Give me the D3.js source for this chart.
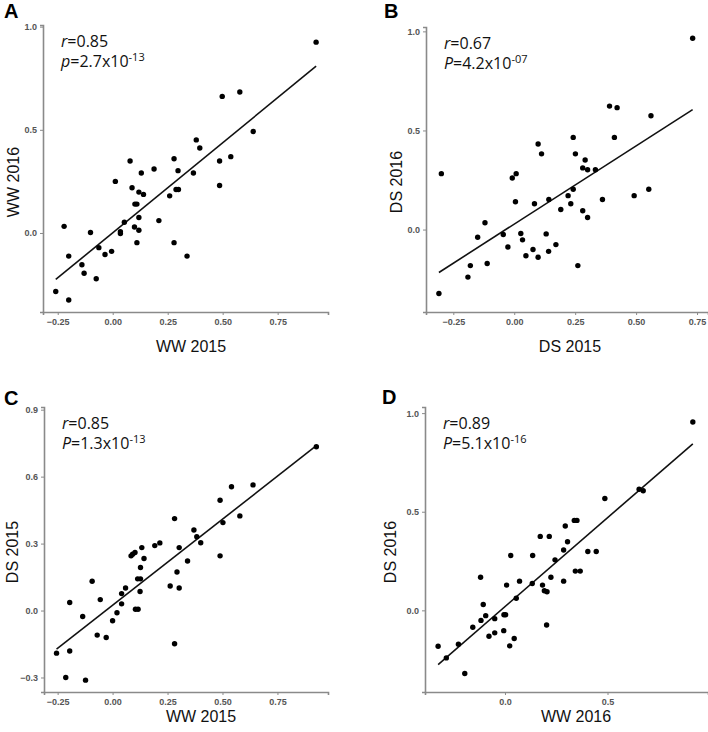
<!DOCTYPE html>
<html>
<head>
<meta charset="utf-8">
<script src="https://cdn.jsdelivr.net/npm/d3@7"></script>
<style>
  body { margin: 0; background: #fff; }
  svg { display: block; }
  .tick text { font-family: "Liberation Sans", Arial, sans-serif; font-size: 9px; font-weight: bold; fill: #555; }
  .axis path, .axis line { stroke: #8a8a8a; }
</style>
</head>
<body>
<svg id="chart" width="708" height="732"></svg>
<script>
// Panel A: WW 2015 vs WW 2016
const aWW2015 = [0.925, 0.498, 0.578, 0.639, 0.380, 0.396, 0.486, 0.537, 0.486, 0.279, 0.297, 0.367, 0.188, 0.079, 0.130,
  0.012, 0.088, 0.119, 0.140, 0.259, 0.288, 0.299, 0.101, 0.110, 0.119, 0.210, 0.053, 0.035, 0.035, 0.099,
  0.119, 0.110, 0.279, 0.338, -0.101, -0.221, -0.200, -0.063, -0.035, -0.005, -0.140, -0.130, -0.075, -0.259, -0.200];
const aWW2016 = [0.925, 0.662, 0.683, 0.492, 0.451, 0.412, 0.349, 0.370, 0.230, 0.360, 0.302, 0.291, 0.310, 0.349, 0.291,
  0.250, 0.219, 0.198, 0.187, 0.180, 0.211, 0.211, 0.140, 0.140, 0.075, 0.060, 0.052, 0.006, -0.003, 0.029,
  0.013, -0.047, -0.047, -0.112, 0.002, 0.032, -0.112, -0.071, -0.104, -0.089, -0.154, -0.195, -0.222, -0.284, -0.325];

// Panel B: DS 2015 vs DS 2016
const bDS2015 = [0.732, 0.391, 0.422, 0.561, 0.411, 0.242, 0.098, 0.112, 0.251, 0.291, 0.281, 0.301, 0.333, -0.299, 0.008,
  -0.008, 0.242, 0.552, 0.492, 0.221, 0.142, 0.362, 0.005, 0.083, 0.232, 0.191, 0.281, 0.301, -0.120, -0.045,
  0.027, 0.131, -0.150, 0.034, -0.026, 0.171, 0.077, 0.141, 0.048, 0.098, 0.261, -0.180, -0.111, -0.190, -0.309];
const bDS2016 = [0.965, 0.623, 0.615, 0.574, 0.465, 0.465, 0.432, 0.382, 0.382, 0.351, 0.311, 0.302, 0.302, 0.282, 0.282,
  0.260, 0.203, 0.203, 0.171, 0.171, 0.152, 0.152, 0.140, 0.130, 0.130, 0.101, 0.095, 0.061, 0.034, -0.025,
  -0.020, -0.022, -0.039, -0.052, -0.088, -0.076, -0.101, -0.110, -0.132, -0.140, -0.182, -0.182, -0.171, -0.240, -0.323];

// Panel C: WW 2015 vs DS 2015
const cWW2015 = [0.927, 0.639, 0.541, 0.489, 0.579, 0.502, 0.282, 0.370, 0.383, 0.401, 0.303, 0.489, 0.341, 0.192, 0.215,
  0.133, 0.084, 0.091, 0.102, 0.143, 0.127, 0.114, 0.127, 0.293, 0.262, 0.303, 0.125, 0.059, 0.041, -0.093,
  -0.056, 0.041, -0.195, 0.104, 0.116, 0.020, -0.136, 0.000, -0.070, -0.029, 0.282, -0.195, -0.255, -0.213, -0.123];
const cDS2015 = [0.734, 0.563, 0.555, 0.494, 0.424, 0.394, 0.412, 0.361, 0.331, 0.304, 0.282, 0.245, 0.222, 0.291, 0.303,
  0.282, 0.245, 0.252, 0.260, 0.233, 0.193, 0.142, 0.142, 0.173, 0.110, 0.101, 0.085, 0.101, 0.076, 0.131,
  0.049, 0.030, 0.036, 0.006, 0.006, -0.010, -0.027, -0.046, -0.110, -0.121, -0.149, -0.181, -0.191, -0.300, -0.312];

// Panel D: WW 2016 vs DS 2016
const dWW2016 = [0.916, 0.654, 0.674, 0.487, 0.338, 0.351, 0.294, 0.172, 0.216, 0.305, 0.286, 0.404, 0.445, 0.028, 0.135,
  0.244, 0.343, 0.367, -0.119, 0.224, 0.071, 0.286, 0.133, 0.008, 0.183, 0.192, 0.205, 0.055, -0.106, -0.005,
  0.003, -0.094, -0.117, -0.050, -0.157, -0.006, -0.050, -0.078, 0.203, 0.045, 0.023, -0.227, -0.326, -0.286, -0.196];
const dDS2016 = [0.955, 0.614, 0.606, 0.567, 0.456, 0.456, 0.428, 0.375, 0.375, 0.348, 0.306, 0.298, 0.298, 0.278, 0.278,
  0.256, 0.199, 0.199, 0.168, 0.168, 0.148, 0.148, 0.136, 0.128, 0.128, 0.099, 0.094, 0.061, 0.030, -0.022,
  -0.022, -0.027, -0.051, -0.042, -0.086, -0.103, -0.114, -0.131, -0.074, -0.143, -0.180, -0.172, -0.182, -0.241, -0.320];

// tick values
const ticksX2015 = [-0.25, 0, 0.25, 0.5, 0.75];
const ticksY1 = [0, 0.5, 1.0];
const ticksYC = [-0.3, 0, 0.3, 0.6, 0.9];
const ticksXD = [0, 0.5];

// statistics text
const panelLetters = ['A', 'B', 'C', 'D'];
const rValues = ['0.85', '0.67', '0.85', '0.89'];
const pLetters = ['p', 'P', 'P', 'P'];
const pMantissa = ['2.7', '4.2', '1.3', '5.1'];
const pExponent = ['-13', '-07', '-13', '-16'];
const xTitles = ['WW 2015', 'DS 2015', 'WW 2015', 'WW 2016'];
const yTitles = ['WW 2016', 'DS 2016', 'DS 2015', 'DS 2016'];

const svg = d3.select('#chart');

// layout of each panel (pixels) and axis domains
const panels = [
  { x: aWW2015, y: aWW2016, left: 43, top: 25, right: 328, bottom: 312, xDom: [-0.317, 0.979], yDom: [-0.383, 1.008],
    xTicks: ticksX2015, yTicks: ticksY1, xFmt: '.2f', yFmt: '.1f', letter: [4, 18], xt: [191, 352], yt: [13, 182] },
  { x: bDS2015, y: bDS2016, left: 426, top: 27, right: 708, bottom: 312, xDom: [-0.362, 0.795], yDom: [-0.416, 1.022],
    xTicks: ticksX2015, yTicks: ticksY1, xFmt: '.2f', yFmt: '.1f', letter: [384, 18], xt: [570, 352], yt: [396, 182] },
  { x: cWW2015, y: cDS2015, left: 44, top: 407, right: 328, bottom: 692, xDom: [-0.312, 0.980], yDom: [-0.365, 0.912],
    xTicks: ticksX2015, yTicks: ticksYC, xFmt: '.2f', yFmt: '.1f', letter: [4, 405], xt: [201, 722], yt: [12, 552] },
  { x: dWW2016, y: dDS2016, left: 425, top: 407, right: 708, bottom: 692, xDom: [-0.390, 0.990], yDom: [-0.414, 1.031],
    xTicks: ticksXD, yTicks: ticksY1, xFmt: '.1f', yFmt: '.1f', letter: [382, 404], xt: [576, 722], yt: [390, 552] }
];

// least squares fit for the trend line
function fitLine(xs, ys) {
  const mx = d3.mean(xs), my = d3.mean(ys);
  let sxy = 0, sxx = 0;
  xs.forEach((v, i) => { sxy += (v - mx) * (ys[i] - my); sxx += (v - mx) * (v - mx); });
  const slope = sxy / sxx;
  return { slope: slope, intercept: my - slope * mx };
}

panels.forEach((p, i) => {
  const x = d3.scaleLinear().domain(p.xDom).range([p.left, p.right]);
  const y = d3.scaleLinear().domain(p.yDom).range([p.bottom, p.top]);
  const g = svg.append('g');

  // axes
  g.append('g').attr('class', 'axis')
    .attr('transform', `translate(0,${p.bottom})`)
    .call(d3.axisBottom(x).tickValues(p.xTicks).tickFormat(d3.format(p.xFmt)).tickSizeOuter(0).tickSize(3).tickPadding(4))
    .call(a => a.select('.domain').attr('stroke-width', 1.6));
  g.append('g').attr('class', 'axis')
    .attr('transform', `translate(${p.left},0)`)
    .call(d3.axisLeft(y).tickValues(p.yTicks).tickFormat(d3.format(p.yFmt)).tickSizeOuter(0).tickSize(3).tickPadding(3))
    .call(a => a.select('.domain').attr('stroke-width', 1.6));

  // trend line
  const fit = fitLine(p.x, p.y);
  const ext = d3.extent(p.x);
  g.append('line')
    .attr('x1', x(ext[0])).attr('y1', y(fit.intercept + fit.slope * ext[0]))
    .attr('x2', x(ext[1])).attr('y2', y(fit.intercept + fit.slope * ext[1]))
    .attr('stroke', '#111').attr('stroke-width', 1.6);

  // points
  g.selectAll('circle').data(p.x).enter().append('circle')
    .attr('cx', d => x(d))
    .attr('cy', (d, j) => y(p.y[j]))
    .attr('r', 2.7)
    .attr('fill', '#000');

  // panel letter
  g.append('text').attr('x', p.letter[0]).attr('y', p.letter[1])
    .style('font-family', '"Liberation Sans", Arial, sans-serif').style('font-weight', 'bold').style('font-size', '20px')
    .text(panelLetters[i]);

  // axis titles
  g.append('text').attr('x', p.xt[0]).attr('y', p.xt[1]).attr('text-anchor', 'middle')
    .style('font-family', '"Liberation Sans", Arial, sans-serif').style('font-size', '16px').attr('fill', '#111')
    .text(xTitles[i]);
  g.append('text').attr('transform', `translate(${p.yt[0]},${p.yt[1]}) rotate(-90)`)
    .attr('text-anchor', 'middle').attr('dy', '0.35em')
    .style('font-family', '"Liberation Sans", Arial, sans-serif').style('font-size', '16px').attr('fill', '#111')
    .text(yTitles[i]);

  // r and p annotation
  const tx = p.left + 18;
  const rt = g.append('text').attr('x', tx).attr('y', p.top + 22)
    .style('font-family', '"Open Sans", sans-serif').style('font-size', '16px').attr('fill', '#111');
  rt.append('tspan').style('font-style', 'italic').text('r');
  rt.append('tspan').text('=' + rValues[i]);
  const pt = g.append('text').attr('x', tx).attr('y', p.top + 42)
    .style('font-family', '"Open Sans", sans-serif').style('font-size', '16px').attr('fill', '#111');
  pt.append('tspan').style('font-style', 'italic').text(pLetters[i]);
  pt.append('tspan').text('=' + pMantissa[i] + 'x10');
  pt.append('tspan').attr('dy', -6).style('font-size', '11px').text(pExponent[i]);
});
</script>
</body>
</html>
